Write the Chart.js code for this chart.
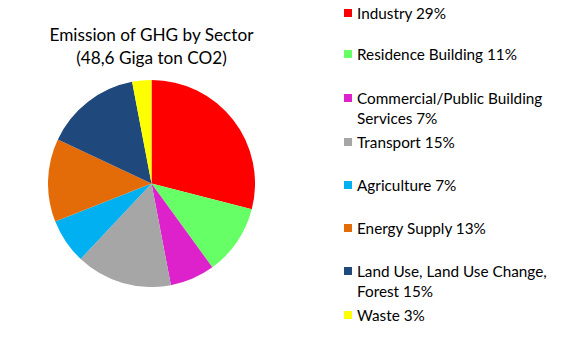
<!DOCTYPE html>
<html>
<head>
<meta charset="utf-8">
<script src="https://cdn.jsdelivr.net/npm/chart.js@4.4.0/dist/chart.umd.min.js"></script>
<style>
  body { margin: 0; background: #fff; width: 577px; height: 346px; overflow: hidden; font-family: Lato, "Open Sans", sans-serif; color: #000; }
  #title { position: absolute; left: 0; width: 303px; top: 23px; text-align: center; font-size: 17.2px; line-height: 23px; }
  #pieBox { position: absolute; left: 48px; top: 80px; width: 207px; height: 207px; }
  #legend { position: absolute; left: 344px; top: 0; }
  .item { position: absolute; left: 0; white-space: nowrap; font-size: 15.3px; line-height: 20px; }
  .box { position: absolute; left: 0; top: 6px; width: 8px; height: 8px; }
  .txt { position: absolute; left: 13px; top: 0; }
</style>
</head>
<body>
<div id="title">Emission of GHG by Sector<br>(48,6 Giga ton CO2)</div>
<div id="pieBox"><canvas id="myChart"></canvas></div>
<div id="legend"></div>
<script>
'use strict';

// data
var sectors = ['Industry', 'Residence Building', 'Commercial/Public Building Services', 'Transport', 'Agriculture', 'Energy Supply', 'Land Use, Land Use Change, Forest', 'Waste'];
var shares = [29, 11, 7, 15, 7, 13, 15, 3];
var sliceColors = ['#ff0000', '#66ff66', '#dd22cc', '#a6a6a6', '#00b0f0', '#e36c09', '#1f497d', '#ffff00'];
// legend text lines (wrapped like the original)
var legendLines = [
  ['Industry 29%'],
  ['Residence Building 11%'],
  ['Commercial/Public Building', 'Services 7%'],
  ['Transport 15%'],
  ['Agriculture 7%'],
  ['Energy Supply 13%'],
  ['Land Use, Land Use Change,', 'Forest 15%'],
  ['Waste 3%']
];
var legendTops = [3, 44, 88, 132, 175, 218, 261, 305];

var legendElement = document.getElementById('legend');
for (var i = 0; i < legendLines.length; i++) {
  var item = document.createElement('div');
  item.className = 'item';
  item.style.top = legendTops[i] + 'px';
  var box = document.createElement('div');
  box.className = 'box';
  box.style.background = sliceColors[i];
  var txt = document.createElement('div');
  txt.className = 'txt';
  txt.innerHTML = legendLines[i].join('<br>');
  item.appendChild(box);
  item.appendChild(txt);
  legendElement.appendChild(item);
}

var ctx = document.getElementById('myChart').getContext('2d');
var chart = new Chart(ctx, {
  type: 'pie',
  data: {
    labels: sectors,
    datasets: [{
      data: shares,
      backgroundColor: sliceColors,
      borderWidth: 0,
      hoverOffset: 0
    }]
  },
  options: {
    responsive: true,
    maintainAspectRatio: false,
    animation: false,
    layout: { padding: 0 },
    plugins: {
      legend: { display: false },
      tooltip: { enabled: false }
    }
  }
});
</script>
</body>
</html>
